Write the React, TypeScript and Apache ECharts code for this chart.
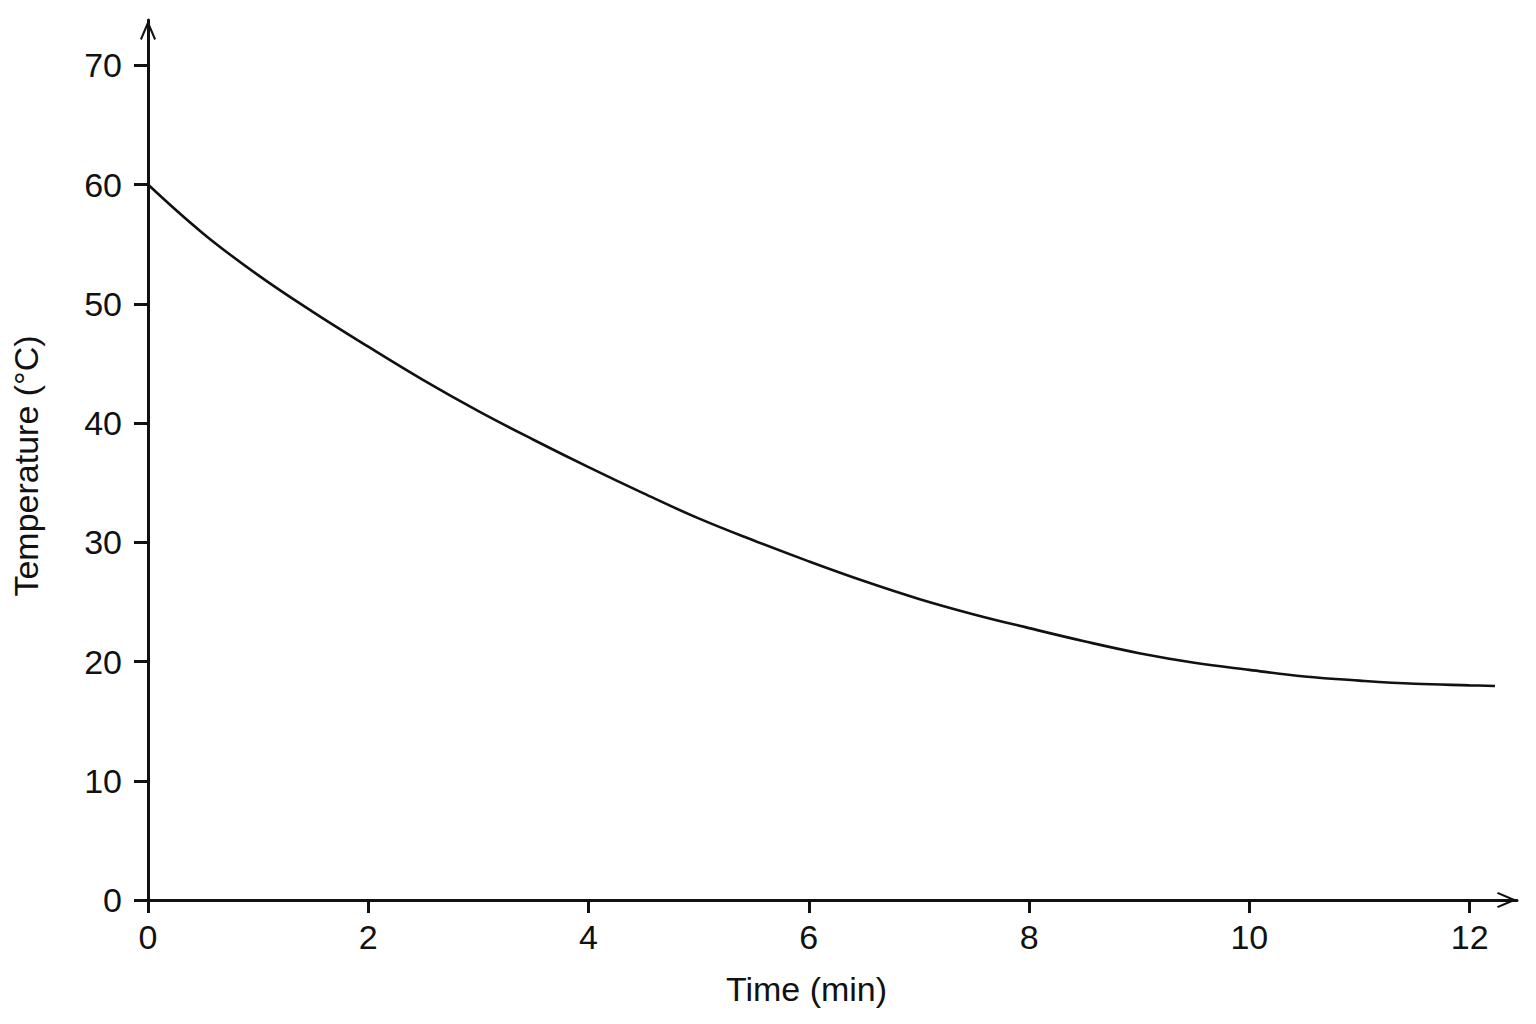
import * as echarts from 'echarts';
import { useEffect, useRef } from 'react';

// readings taken off the cooling curve, every half minute
const times = [0, 0.5, 1, 1.5, 2, 2.5, 3, 3.5, 4, 4.5, 5, 5.5, 6, 6.5, 7, 7.5, 8, 8.5, 9, 9.5, 10, 10.5, 11, 11.5, 12, 12.23];
const temps = [
  60, 55.9, 52.4, 49.3, 46.4, 43.6, 41.0, 38.6, 36.3, 34.1, 32.0, 30.15, 28.4, 26.75, 25.25, 23.95,
  22.8, 21.7, 20.7, 19.9, 19.3, 18.75, 18.4, 18.13, 18.0, 17.95,
];

const xTicks = [0, 2, 4, 6, 8, 10, 12];
const yTicks = [0, 10, 20, 30, 40, 50, 60, 70];

// axes run a little past the last tick, up to the arrow tips
const X_MAX = 12.43;
const Y_MAX = 73.8;

const FONT = '"Liberation Sans", Arial, Helvetica, sans-serif';
const INK = '#111111';
// open arrow head, tip pointing up in symbol space
const ARROW = 'path://M8 0 L16 19 L14.2 20 L8 5.5 L1.8 20 L0 19 Z';

const axisLine = {
  show: true,
  onZero: false,
  symbol: ['none', ARROW],
  symbolSize: [16, 20],
  symbolOffset: [0, -10],
  lineStyle: { color: INK, width: 3 },
};

export default function App() {
  const chartRef = useRef<HTMLDivElement>(null);

  useEffect(() => {
    if (!chartRef.current) return;
    const chart = echarts.init(chartRef.current, null, { renderer: 'svg' });

    chart.setOption({
      animation: false,
      backgroundColor: '#ffffff',
      grid: { left: 148, right: 19, top: 20, bottom: 124, outerBoundsMode: 'none' },
      xAxis: {
        type: 'value',
        min: 0,
        max: X_MAX,
        name: 'Time (min)',
        nameLocation: 'middle',
        nameGap: 72,
        nameTextStyle: { fontSize: 34, color: INK, fontFamily: FONT, padding: [0, 52, 0, 0] },
        axisLine,
        axisTick: { show: true, length: 13, customValues: xTicks, lineStyle: { color: INK, width: 3 } },
        axisLabel: { customValues: xTicks, margin: 20, fontSize: 34, color: INK, fontFamily: FONT },
        splitLine: { show: false },
      },
      yAxis: {
        type: 'value',
        min: 0,
        max: Y_MAX,
        name: 'Temperature (°C)',
        nameLocation: 'middle',
        nameGap: 105,
        nameTextStyle: { fontSize: 34, color: INK, fontFamily: FONT, padding: [0, 12, 0, 0] },
        axisLine,
        axisTick: { show: true, length: 14, customValues: yTicks, lineStyle: { color: INK, width: 3 } },
        axisLabel: { customValues: yTicks, margin: 26, fontSize: 34, color: INK, fontFamily: FONT },
        splitLine: { show: false },
      },
      series: [
        {
          type: 'line',
          data: times.map((t, i) => [t, temps[i]]),
          showSymbol: false,
          smooth: 0.4,
          lineStyle: { color: INK, width: 2.6 },
          z: 3,
        },
      ],
    });

    return () => chart.dispose();
  }, []);

  return (
    <div
      ref={chartRef}
      style={{ position: 'fixed', left: 0, top: 0, width: 1536, height: 1024, background: '#fff' }}
    />
  );
}
